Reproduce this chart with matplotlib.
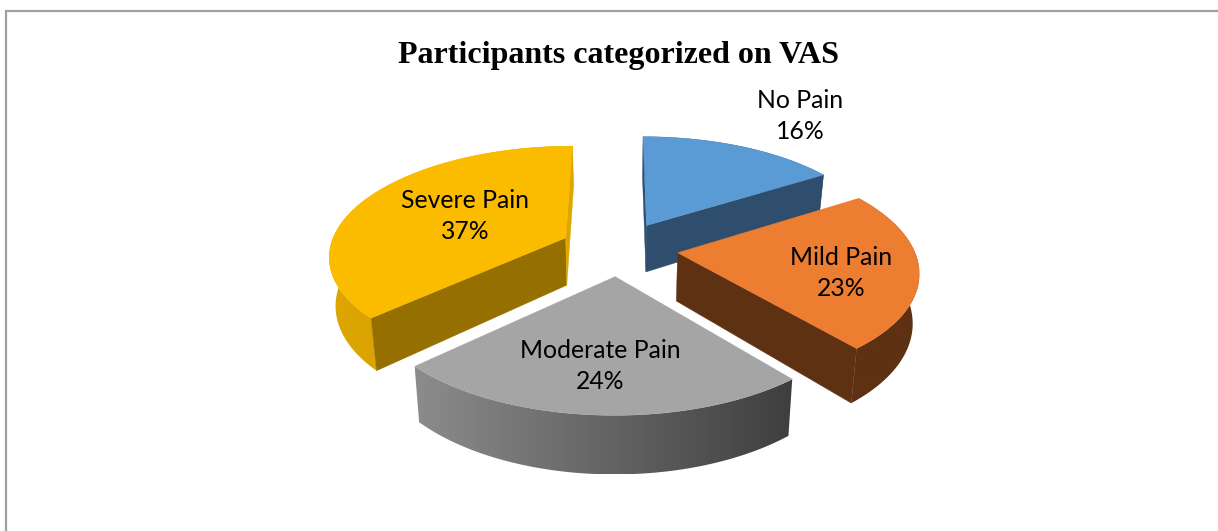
import numpy as np
import matplotlib
matplotlib.use("Agg")
import matplotlib.pyplot as plt
from matplotlib.patches import Polygon
from matplotlib.colors import to_rgb

categories = ["No Pain", "Mild Pain", "Moderate Pain", "Severe Pain"]
values = [16, 23, 24, 37]
title = "Participants categorized on VAS"

top_colors = ["#5B9BD5", "#ED7D31", "#A5A5A5", "#FBBC00"]
cut_colors = ["#2F4E6D", "#5F3113", "#6E6E6E", "#957000"]
rim_left = ["#2F4E6D", "#5F3113", "#8C8C8C", "#DDA600"]
rim_right = ["#2F4E6D", "#5F3113", "#3E3E3E", "#D09C00"]
label_xy = [(800, 116), (841, 273), (600, 366), (465, 216)]

CX, CY = 619, 248.5        # projected pie centre, px
RX, RY = 236, 108.5        # projected radii, px
KX, KY = 0.15, 0.15        # perspective strength
EXPLODE = 0.25
DEPTH = 48
SHRINK = 0.978


def top_xy(x, y):
    sx = 1 / (1 + KX * y)
    sy = 1 / (1 + KY * y)
    return CX + RX * x * sx, CY - RY * y * sy


def bottom_xy(x, y):
    px, py = top_xy(x, y)
    sx = 1 / (1 + KX * y)
    return CX + (px - CX) * SHRINK, py + DEPTH * sx


fig = plt.figure(figsize=(12.18, 5.31), dpi=100)
ax = fig.add_axes([0, 0, 1, 1])
ax.axis("off")

# chart frame
ax.plot([6, 6, 1218], [531, 11, 11], color="#A0A0A0", lw=1.6, solid_joinstyle="miter")

fractions = np.array(values) / sum(values)
edges = np.concatenate([[0], np.cumsum(fractions)]) * 2 * np.pi


def draw_slice(i, z):
    a0, a1 = edges[i], edges[i + 1]
    mid = (a0 + a1) / 2
    ox, oy = EXPLODE * np.sin(mid), EXPLODE * np.cos(mid)
    th = np.linspace(a0, a1, 120)
    xs, ys = ox + np.sin(th), oy + np.cos(th)
    ap_t = top_xy(ox, oy)
    ap_b = bottom_xy(ox, oy)
    tx, ty = top_xy(xs, ys)
    bx, by = bottom_xy(xs, ys)

    # outer rim, filled with a horizontal gradient
    rim = list(zip(tx, ty)) + list(zip(bx[::-1], by[::-1]))
    xmin, xmax = min(tx.min(), bx.min()), max(tx.max(), bx.max())
    ymin, ymax = ty.min(), by.max()
    c0, c1 = np.array(to_rgb(rim_left[i])), np.array(to_rgb(rim_right[i]))
    grad = np.linspace(0, 1, 256)[None, :, None] * (c1 - c0) + c0
    clip = Polygon(rim, closed=True, transform=ax.transData, fc="none", ec="none")
    ax.add_patch(clip)
    im = ax.imshow(grad, extent=(xmin, xmax, ymax, ymin), aspect="auto", zorder=z)
    im.set_clip_path(clip)

    # cut faces that look towards the viewer
    visible = [(0, np.sin(a0) < 1e-9), (-1, np.sin(a1) > -1e-9)]
    for k, show in visible:
        if not show:
            continue
        face = [ap_t, (tx[k], ty[k]), (bx[k], by[k]), ap_b]
        col = "#DDA600" if (i == 3 and k == -1) else cut_colors[i]
        ax.add_patch(Polygon(face, closed=True, fc=col, ec=col, lw=0.3, zorder=z + 0.1))

    # top
    pts = [ap_t] + list(zip(tx, ty))
    ax.add_patch(Polygon(pts, closed=True, fc=top_colors[i], ec=top_colors[i], lw=0.3, zorder=z + 0.2))


# painter's order, back to front: blue, yellow, orange, grey
for z, i in enumerate((0, 3, 1, 2), start=1):
    draw_slice(i, z)

ax.set_xlim(0, 1218)
ax.set_ylim(531, 0)

for name, val, (lx, ly) in zip(categories, values, label_xy):
    ax.text(lx, ly, f"{name}\n{val}%", ha="center", va="center", fontsize=17.8,
            family="Lato", color="black", linespacing=1.38, zorder=20)

ax.text(618, 55, title, ha="center", va="center", fontsize=23, fontweight="bold",
        family="Liberation Serif", color="black", zorder=20)

fig.savefig("out.png", dpi=100)
